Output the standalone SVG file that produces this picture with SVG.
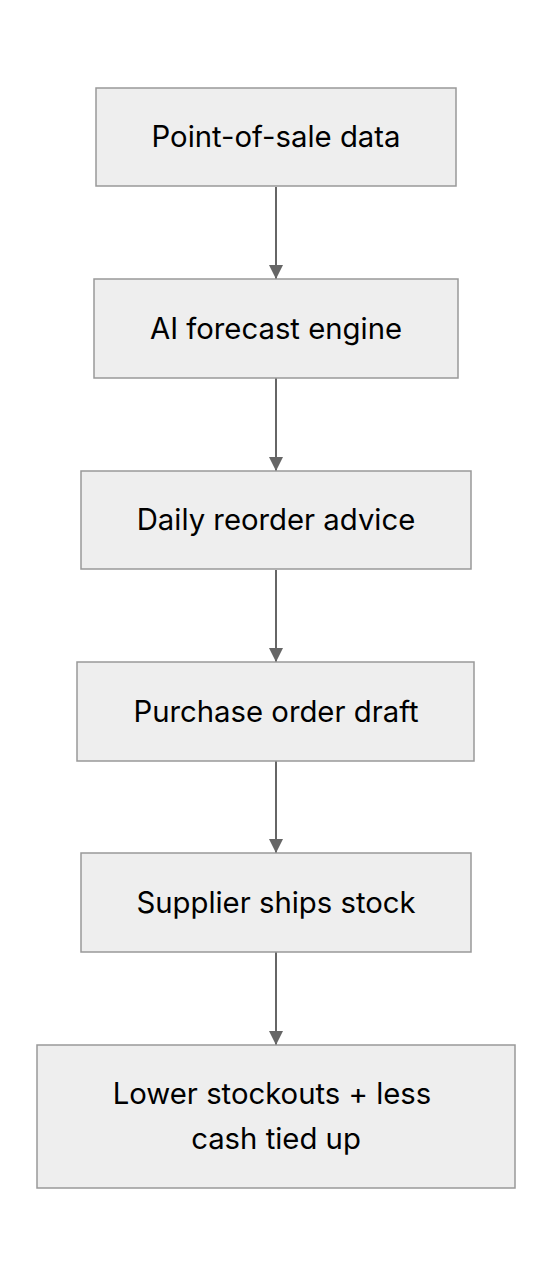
<svg xmlns="http://www.w3.org/2000/svg" width="552" height="1276" viewBox="0 0 552 1276">
<style>
.box{fill:#eeeeee;stroke:#999999;stroke-width:1.5}
.lbl{font-family:Inter,"Liberation Sans",sans-serif;font-size:29.3px;fill:#000000;text-anchor:middle}
.edge{stroke:#666666;stroke-width:2;fill:none}
</style>
<defs>
<marker id="arr" markerWidth="14" markerHeight="14" refX="14" refY="7" orient="auto" markerUnits="userSpaceOnUse">
<path d="M0,0 L14,7 L0,14 Z" fill="#666666"/>
</marker>
</defs>
<rect width="552" height="1276" fill="#ffffff"/>
<g id="connectors">
<line class="edge" x1="276" y1="187" x2="276" y2="279" marker-end="url(#arr)"/>
<line class="edge" x1="276" y1="378" x2="276" y2="471" marker-end="url(#arr)"/>
<line class="edge" x1="276" y1="570" x2="276" y2="662" marker-end="url(#arr)"/>
<line class="edge" x1="276" y1="761" x2="276" y2="853" marker-end="url(#arr)"/>
<line class="edge" x1="276" y1="952" x2="276" y2="1045" marker-end="url(#arr)"/>
</g>
<g id="n1"><rect class="box" x="96" y="88" width="360" height="98"/><text class="lbl" x="276" y="147">Point-of-sale data</text></g>
<g id="n2"><rect class="box" x="94" y="279" width="364" height="99"/><text class="lbl" x="276" y="339">AI forecast engine</text></g>
<g id="n3"><rect class="box" x="81" y="471" width="390" height="98"/><text class="lbl" x="276" y="530">Daily reorder advice</text></g>
<g id="n4"><rect class="box" x="77" y="662" width="397" height="99"/><text class="lbl" x="276" y="722">Purchase order draft</text></g>
<g id="n5"><rect class="box" x="81" y="853" width="390" height="99"/><text class="lbl" x="276" y="913">Supplier ships stock</text></g>
<g id="n6"><rect class="box" x="37" y="1045" width="478" height="143"/><text class="lbl" x="272" y="1104">Lower stockouts + less</text><text class="lbl" x="276" y="1149">cash tied up</text></g>
</svg>
